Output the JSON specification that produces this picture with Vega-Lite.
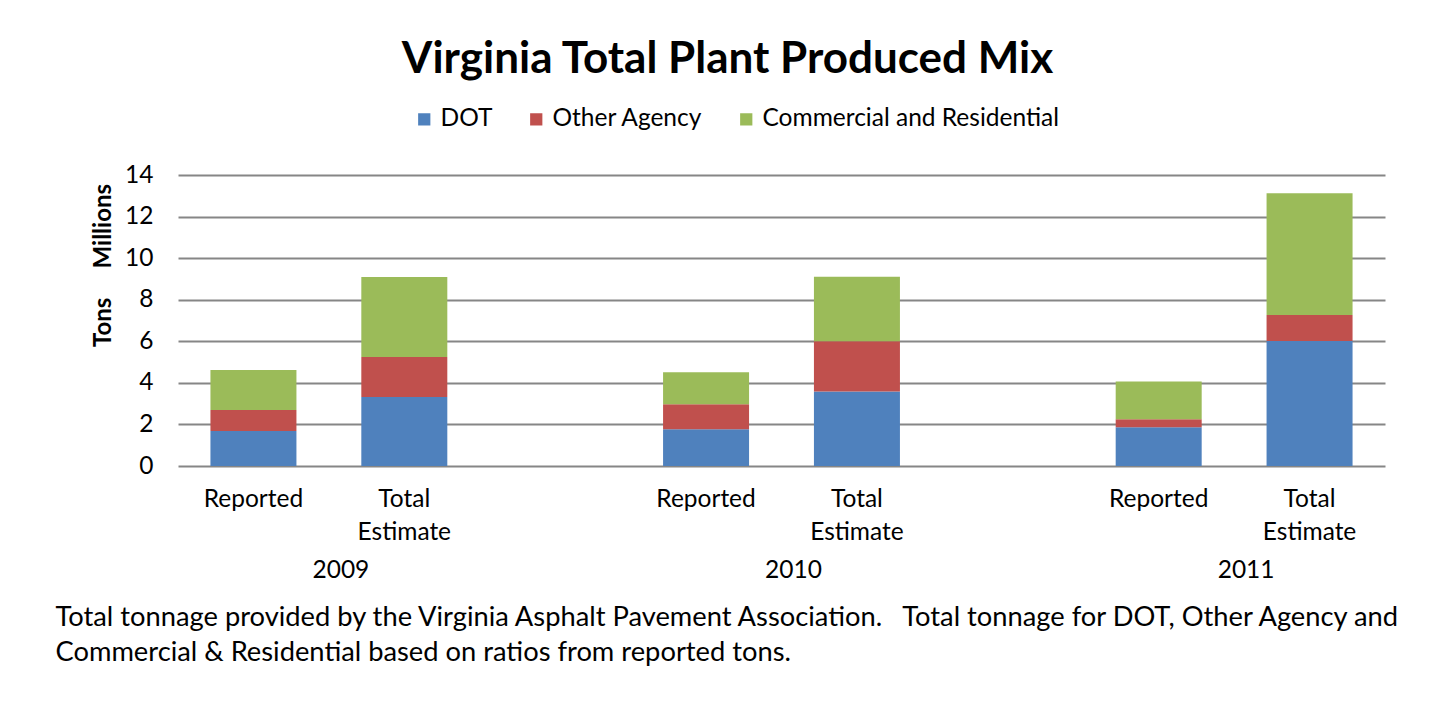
{
  "$schema": "https://vega.github.io/schema/vega-lite/v6.json",
  "autosize": {"type": "none"},
  "padding": {"left": 178, "top": 175, "right": 68, "bottom": 245},
  "width": 1207,
  "height": 291,
  "background": "white",
  "config": {
    "view": {"stroke": null},
    "font": "Lato",
    "axis": {"labelFont": "Lato", "titleFont": "Lato", "labelColor": "black", "titleColor": "black"}
  },
  "title": {
    "text": "Virginia Total Plant Produced Mix",
    "font": "Lato",
    "fontSize": 44,
    "fontWeight": "bold",
    "color": "black",
    "anchor": "middle",
    "frame": "group",
    "dx": -54,
    "offset": 25
  },
  "data": {
    "values": [
      {"year": "2009", "kind": "Reported", "bar": "2009 Reported", "agency": "DOT", "tons": 1.68},
      {"year": "2009", "kind": "Reported", "bar": "2009 Reported", "agency": "Other Agency", "tons": 1.01},
      {"year": "2009", "kind": "Reported", "bar": "2009 Reported", "agency": "Commercial and Residential", "tons": 1.93},
      {"year": "2009", "kind": "Total Estimate", "bar": "2009 Total Estimate", "agency": "DOT", "tons": 3.32},
      {"year": "2009", "kind": "Total Estimate", "bar": "2009 Total Estimate", "agency": "Other Agency", "tons": 1.92},
      {"year": "2009", "kind": "Total Estimate", "bar": "2009 Total Estimate", "agency": "Commercial and Residential", "tons": 3.85},
      {"year": "2010", "kind": "Reported", "bar": "2010 Reported", "agency": "DOT", "tons": 1.77},
      {"year": "2010", "kind": "Reported", "bar": "2010 Reported", "agency": "Other Agency", "tons": 1.20},
      {"year": "2010", "kind": "Reported", "bar": "2010 Reported", "agency": "Commercial and Residential", "tons": 1.54},
      {"year": "2010", "kind": "Total Estimate", "bar": "2010 Total Estimate", "agency": "DOT", "tons": 3.59},
      {"year": "2010", "kind": "Total Estimate", "bar": "2010 Total Estimate", "agency": "Other Agency", "tons": 2.41},
      {"year": "2010", "kind": "Total Estimate", "bar": "2010 Total Estimate", "agency": "Commercial and Residential", "tons": 3.11},
      {"year": "2011", "kind": "Reported", "bar": "2011 Reported", "agency": "DOT", "tons": 1.86},
      {"year": "2011", "kind": "Reported", "bar": "2011 Reported", "agency": "Other Agency", "tons": 0.39},
      {"year": "2011", "kind": "Reported", "bar": "2011 Reported", "agency": "Commercial and Residential", "tons": 1.81},
      {"year": "2011", "kind": "Total Estimate", "bar": "2011 Total Estimate", "agency": "DOT", "tons": 6.01},
      {"year": "2011", "kind": "Total Estimate", "bar": "2011 Total Estimate", "agency": "Other Agency", "tons": 1.25},
      {"year": "2011", "kind": "Total Estimate", "bar": "2011 Total Estimate", "agency": "Commercial and Residential", "tons": 5.86}
    ]
  },
  "resolve": {"scale": {"x": "independent"}, "axis": {"x": "independent"}},
  "layer": [
    {
      "transform": [
        {"calculate": "datum.agency == 'DOT' ? 0 : (datum.agency == 'Other Agency' ? 1 : 2)", "as": "stackOrder"}
      ],
      "mark": {"type": "bar"},
      "encoding": {
        "x": {
          "field": "bar",
          "type": "nominal",
          "scale": {
            "domain": ["2009 Reported", "2009 Total Estimate", "gap a", "2010 Reported", "2010 Total Estimate", "gap b", "2011 Reported", "2011 Total Estimate"],
            "paddingInner": 0.43,
            "paddingOuter": 0.215
          },
          "axis": {
            "orient": "bottom",
            "title": null,
            "domain": false,
            "ticks": false,
            "tickSize": 0,
            "grid": false,
            "labelAngle": 0,
            "labelPadding": 21,
            "labelFontSize": 24.5,
            "labelLineHeight": 33,
            "labelBaseline": "top",
            "labelOverlap": false,
            "labelExpr": "substring(datum.value, 5) == 'Reported' ? 'Reported' : (substring(datum.value, 5) == 'Total Estimate' ? ['Total', 'Estimate'] : '')"
          }
        },
        "y": {
          "field": "tons",
          "type": "quantitative",
          "stack": "zero",
          "scale": {"domain": [0, 14], "nice": false},
          "axis": {
            "values": [0, 2, 4, 6, 8, 10, 12, 14],
            "grid": true,
            "gridColor": "#868686",
            "gridWidth": 2,
            "domain": false,
            "ticks": false,
            "labelPadding": 25,
            "labelFontSize": 24.5,
            "title": "Tons\u00a0\u00a0\u00a0\u00a0\u00a0Millions",
            "titleFontSize": 24,
            "titleFontWeight": "bold",
            "titleAngle": -90,
            "titleAlign": "center",
            "titleBaseline": "middle",
            "titleX": -75,
            "titleY": 90
          }
        },
        "color": {
          "field": "agency",
          "type": "nominal",
          "sort": ["DOT", "Other Agency", "Commercial and Residential"],
          "scale": {
            "domain": ["DOT", "Other Agency", "Commercial and Residential"],
            "range": ["#4F81BD", "#C0504D", "#9BBB59"]
          },
          "legend": {
            "title": null,
            "orient": "none",
            "direction": "horizontal",
            "legendX": 234,
            "legendY": -68,
            "symbolType": "square",
            "symbolSize": 150,
            "symbolStrokeWidth": 0,
            "labelFont": "Lato",
            "labelFontSize": 24.5,
            "labelColor": "black",
            "labelLimit": 500,
            "labelOffset": 4,
            "columnPadding": 31
          }
        },
        "order": {"field": "stackOrder", "type": "quantitative"}
      }
    },
    {
      "mark": {"type": "rule", "opacity": 0},
      "encoding": {
        "x": {
          "field": "year",
          "type": "ordinal",
          "scale": {"paddingInner": 0.3333, "paddingOuter": 0},
          "axis": {
            "orient": "bottom",
            "offset": 92,
            "domain": false,
            "ticks": false,
            "tickSize": 0,
            "grid": false,
            "labelAngle": 0,
            "labelPadding": 0,
            "labelOffset": 12,
            "labelFontSize": 24.5,
            "labelBaseline": "top",
            "title": [
              "Total tonnage provided by the Virginia Asphalt Pavement Association.\u00a0\u00a0\u00a0Total tonnage for DOT, Other Agency and",
              "Commercial & Residential based on ratios from reported tons."
            ],
            "titleFontSize": 27.3,
            "titleFontWeight": "normal",
            "titleLineHeight": 35,
            "titleAnchor": "start",
            "titleAlign": "left",
            "titleBaseline": "top",
            "titleX": -123,
            "titlePadding": 22
          }
        }
      }
    }
  ]
}
